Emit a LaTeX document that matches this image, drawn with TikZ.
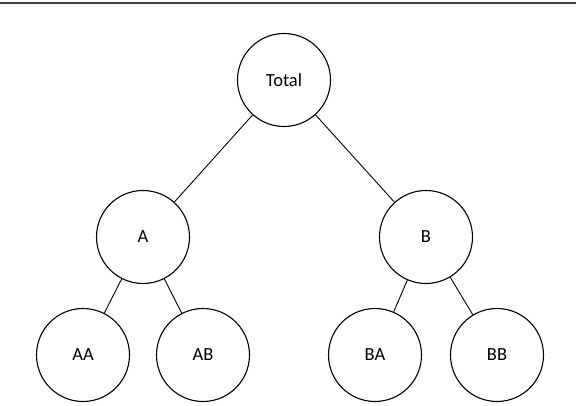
\documentclass[tikz,border=0pt]{standalone}
\usepackage{fontspec}
\setmainfont{Carlito}
\usepackage{tikz}

\begin{document}
\begin{tikzpicture}[x=1pt, y=-1pt, every node/.style={font=\fontsize{18.5}{20}\selectfont},
                    knot/.style={circle, draw=black, line width=1.1pt, minimum size=93pt, inner sep=0pt},
                    twig/.style={draw=black, line width=0.9pt}]
                        \useasboundingbox (0,0) rectangle (576,406);
                        \draw[black!75, line width=1.8pt] (0,3) -- (576,3);
                        \node[knot] (total) at (284,80) {Total};
                        \node[knot] (a) at (143,237) {A};
                        \node[knot] (b) at (426,237) {B};
                        \node[knot] (aa) at (83,355) {AA};
                        \node[knot] (ab) at (203,355) {AB};
                        \node[knot] (ba) at (375,355) {BA};
                        \node[knot] (bb) at (497,355) {BB};
                        \foreach \p/\c in {total/a, total/b, a/aa, a/ab, b/ba, b/bb}
                        \draw[twig] (\p) -- (\c);
                    \end{tikzpicture}
\end{document}
